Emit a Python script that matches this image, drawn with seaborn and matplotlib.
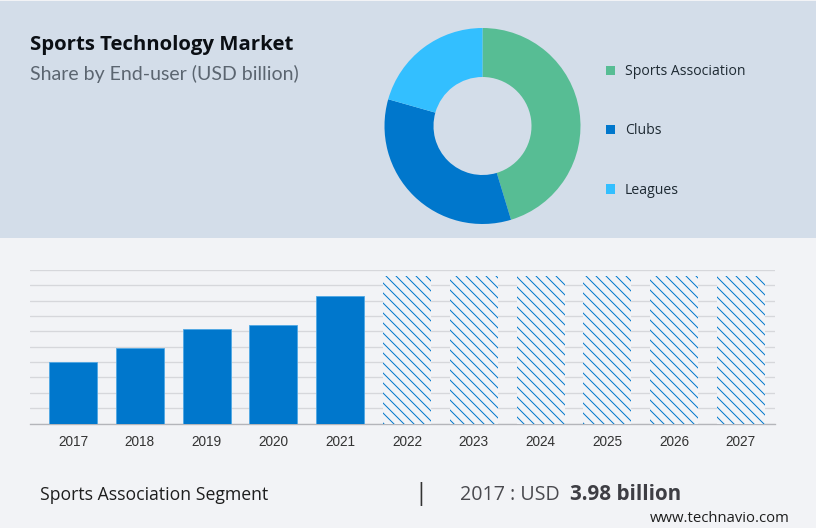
import matplotlib
matplotlib.use('Agg')
import matplotlib.pyplot as plt
import seaborn as sns
import pandas as pd
from matplotlib.patches import Patch, Rectangle

years = ["2017", "2018", "2019", "2020", "2021", "2022", "2023", "2024", "2025", "2026", "2027"]
actual_years = ["2017", "2018", "2019", "2020", "2021"]
actual_values = [3.98, 4.94, 6.13, 6.40, 8.30]
forecast_years = ["2022", "2023", "2024", "2025", "2026", "2027"]
forecast_values = [9.62, 9.62, 9.62, 9.62, 9.62, 9.62]
segments = ["Sports Association", "Clubs", "Leagues"]
shares = [45.3, 34.1, 20.6]
segment_colors = ["#57BD94", "#0077CC", "#33BFFF"]

W, H = 816, 528
DPI = 120
TOP_BG = "#D3DDE9"
BOTTOM_BG = "#F2F3F6"

sns.set_theme(style="white")
plt.rcParams['font.family'] = ['Open Sans', 'DejaVu Sans']
plt.rcParams['hatch.linewidth'] = 0.6


def px_axes(fig, left, top, right, bottom):
    # pixel box measured from the top left of the picture
    return fig.add_axes([left / W, 1 - bottom / H, (right - left) / W, (bottom - top) / H])


fig = plt.figure(figsize=(W / DPI, H / DPI), dpi=DPI, facecolor=BOTTOM_BG)
fig.patches.append(Rectangle((0, 1 - 238 / H), 1, 237 / H, transform=fig.transFigure,
                             facecolor=TOP_BG, edgecolor="none", zorder=-1))

# donut
ax_pie = px_axes(fig, 382.5, 26, 582.5, 226)
wedges, _ = ax_pie.pie(shares, colors=segment_colors, startangle=90, counterclock=False,
                       radius=0.98, wedgeprops={"width": 0.49, "linewidth": 0})
ax_pie.set_xlim(-1, 1)
ax_pie.set_ylim(-1, 1)
ax_legend = fig.legend(handles=[Patch(facecolor=c, edgecolor="none") for c in segment_colors],
                       labels=segments, loc="center left", bbox_to_anchor=(606 / W, 1 - 131 / H),
                       frameon=False, fontsize=8.4, labelspacing=3.17, handlelength=0.64,
                       handleheight=0.64, handletextpad=0.72, labelcolor="#1E2A33", borderpad=0,
                       borderaxespad=0)

# bars
ax = px_axes(fig, 30, 270, 775, 423.5)
ax.set_facecolor("none")
actual_df = pd.DataFrame({"year": actual_years, "value": actual_values})
forecast_df = pd.DataFrame({"year": forecast_years, "value": forecast_values})
sns.barplot(data=actual_df, x="year", y="value", order=years, color="#0077CC", saturation=1,
            width=0.72, edgecolor="#4FA8E4", linewidth=0.5, ax=ax, zorder=3)
sns.barplot(data=forecast_df, x="year", y="value", order=years, color=BOTTOM_BG, saturation=1,
            width=0.72, edgecolor="#0077CC", linewidth=0, hatch="\\\\\\\\", ax=ax, zorder=3)
ax.set_xlim(-0.644, 10.51)
ax.set_ylim(0, 10)
ax.set_yticks(range(0, 11))
ax.grid(axis="y", color="#D6D7DB", linewidth=0.8)
ax.set_axisbelow(True)
ax.set_xlabel("")
ax.set_ylabel("")
ax.tick_params(axis="y", left=False, labelleft=False)
ax.tick_params(axis="x", bottom=False, pad=1, labelsize=8.2, labelcolor="#333333")
for label in ax.get_xticklabels():
    label.set_fontfamily("Liberation Sans")
for side in ["top", "left", "right"]:
    ax.spines[side].set_visible(False)
ax.spines["bottom"].set_color("#B4B5BA")
ax.spines["bottom"].set_linewidth(0.8)

# titles and footer
fig.text(30 / W, 1 - 45 / H, "Sports Technology Market", fontsize=12.25, fontweight="bold",
         color="#0B0F14", va="center")
fig.text(30 / W, 1 - 74 / H, "Share by End-user (USD billion)", fontsize=11.7, color="#5B6570",
         va="center", family=["Lato", "DejaVu Sans"])
fig.text(40 / W, 1 - 495 / H, "Sports Association Segment", fontsize=10.6, color="#1E1E1E", va="center")
fig.text(421 / W, 1 - 494 / H, "|", fontsize=14, color="#333333", va="center", ha="center")
fig.text(460 / W, 1 - 495 / H, "2017 : USD", fontsize=11.8, color="#4A4A4F", va="center")
fig.text(570 / W, 1 - 495 / H, "3.98 billion", fontsize=12.4, fontweight="bold", color="#3E3E44", va="center")
fig.text(650 / W, 1 - 518 / H, "www.technavio.com", fontsize=8.95, color="#1E1E1E", va="center")

fig.savefig("out.png", dpi=DPI, facecolor=fig.get_facecolor())
